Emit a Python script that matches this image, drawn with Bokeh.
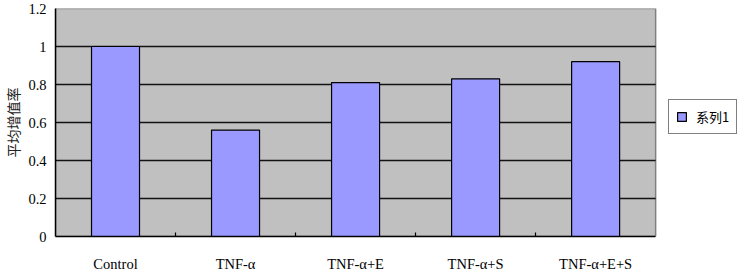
from bokeh.plotting import figure
from bokeh.models import Range1d, FixedTicker, Legend, LegendItem
from bokeh.embed import file_html
from bokeh.resources import INLINE

categories = ["Control", "TNF-α", "TNF-α+E", "TNF-α+S", "TNF-α+E+S"]
values = [1.0, 0.56, 0.81, 0.83, 0.92]
y_ticks = [0, 0.2, 0.4, 0.6, 0.8, 1.0, 1.2]
y_tick_labels = ["0", "0.2", "0.4", "0.6", "0.8", "1", "1.2"]
y_title = "平均增值率"
series_name = "系列1"

n = len(categories)
x = [i + 0.5 for i in range(n)]
boundaries = [float(i) for i in range(1, n)]
y_max = y_ticks[-1]

# frame spans the full width to host the legend; plot area occupies 54..655 px
W, LEFT, AREA_RIGHT = 746, 54, 655
x_end = n * (W - LEFT) / (AREA_RIGHT - LEFT)

p = figure(width=W, height=274, output_backend="svg", toolbar_location=None,
           x_range=Range1d(0, x_end), y_range=Range1d(0, y_max),
           min_border_left=LEFT, min_border_right=0, min_border_top=8, min_border_bottom=35)
p.border_fill_color = "white"
p.background_fill_color = "white"
p.outline_line_color = None

serif = "Liberation Serif"

# plot-area background and border
p.quad(left=[0], right=[n], bottom=[0], top=[y_max], fill_color="#C0C0C0",
       line_color="#808080", line_width=1.5)

# horizontal gridlines within the plot area
grid_y = y_ticks[1:-1]
p.segment(x0=[0] * len(grid_y), x1=[n] * len(grid_y), y0=grid_y, y1=grid_y,
          line_color="black", line_width=1.5, line_alpha=0.9)

p.xgrid.visible = False
p.ygrid.visible = False

# x axis
xa = p.xaxis[0]
xa.bounds = (0, n)
xa.ticker = FixedTicker(ticks=x, minor_ticks=boundaries)
xa.major_label_overrides = {xi: c for xi, c in zip(x, categories)}
xa.major_tick_in = 0
xa.major_tick_out = 0
xa.minor_tick_in = 4
xa.minor_tick_out = 0
xa.minor_tick_line_color = "black"
xa.minor_tick_line_width = 1.2
xa.axis_line_color = "black"
xa.axis_line_width = 1.5
xa.major_label_text_font = serif
xa.major_label_text_font_size = "14.5px"
xa.major_label_text_color = "black"
xa.major_label_standoff = 19

# y axis
ya = p.yaxis[0]
ya.ticker = FixedTicker(ticks=y_ticks)
ya.major_label_overrides = {t: l for t, l in zip(y_ticks, y_tick_labels)}
ya.major_tick_in = 0
ya.major_tick_out = 0
ya.minor_tick_in = 0
ya.minor_tick_out = 0
ya.axis_line_color = "black"
ya.axis_line_width = 1.5
ya.major_label_text_font = serif
ya.major_label_text_font_size = "14.5px"
ya.major_label_text_color = "black"
ya.major_label_standoff = 9
ya.axis_label = y_title
ya.axis_label_text_font = "Noto Sans CJK SC"
ya.axis_label_text_font_style = "normal"
ya.axis_label_text_font_size = "14px"
ya.axis_label_text_color = "#222222"
ya.axis_label_standoff = 2

r = p.vbar(x=x, top=values, width=0.4, fill_color="#9999FF",
           line_color="black", line_width=1.2)

legend = Legend(items=[LegendItem(label=series_name, renderers=[r])],
                location=(613, 102))
legend.border_line_color = "black"
legend.border_line_width = 1
legend.background_fill_color = "white"
legend.background_fill_alpha = 1
legend.label_text_font = "Noto Sans CJK SC"
legend.label_text_font_size = "13px"
legend.label_text_color = "black"
legend.glyph_width = 11
legend.glyph_height = 11
legend.label_height = 11
legend.label_standoff = 9
legend.padding = 7
legend.margin = 0
legend.spacing = 0
p.add_layout(legend)

open("out.html", "w").write(file_html(p, INLINE))
